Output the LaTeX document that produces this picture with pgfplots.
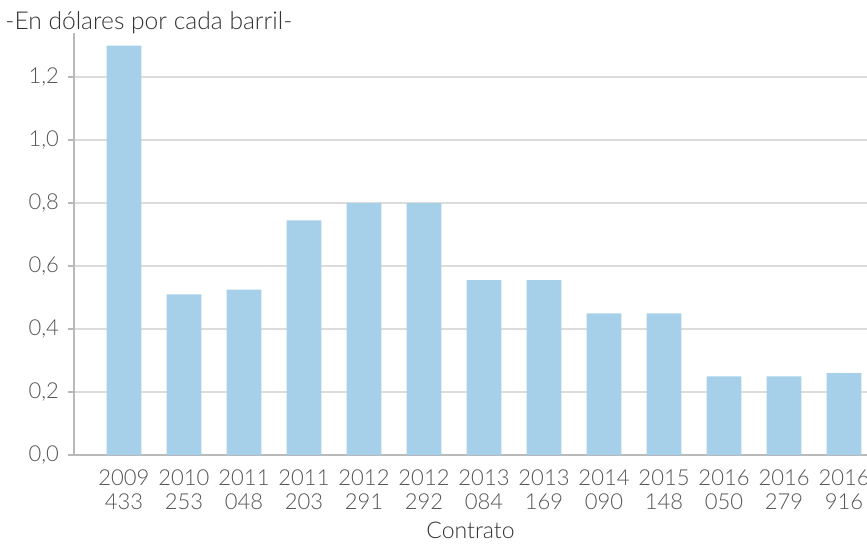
\documentclass[border=0pt]{standalone}
\usepackage{pgfplots}
\pgfplotsset{compat=1.18}
\usepackage{fontspec}
\setmainfont{Lato}[UprightFont=* Light]
\definecolor{barblue}{RGB}{166,208,234}
\definecolor{gridgrey}{RGB}{220,220,220}
\definecolor{axisgrey}{RGB}{185,185,185}
\definecolor{txtgrey}{RGB}{85,85,85}
\begin{document}
\begin{tikzpicture}
\begin{axis}[
    scale only axis, clip=false,
    width=396.5pt, height=211pt,
    xmin=-0.833, xmax=12.383,
    ymin=0, ymax=1.34,
    axis x line*=bottom, axis y line*=left,
    axis line style={axisgrey, line width=0.8pt},
    ytick={0,0.2,...,1.2},
    ymajorgrids=true,
    grid style={gridgrey, line width=0.6pt},
    ytick style={axisgrey, line width=0.6pt},
    tick align=outside, major tick length=3pt,
    xtick=data, xtick style={draw=none},
    xticklabels={2009\\433,2010\\253,2011\\048,2011\\203,2012\\291,2012\\292,2013\\084,2013\\169,2014\\090,2015\\148,2016\\050,2016\\279,2016\\916},
    xticklabel style={align=center, text=txtgrey, font=\fontsize{11}{12}\selectfont, yshift=-1pt},
    yticklabel style={text=txtgrey, font=\fontsize{11}{12}\selectfont, xshift=-1pt},
    y tick label style={/pgf/number format/.cd, fixed, fixed zerofill, precision=1, use comma, assume math mode=true},
    xlabel={Contrato},
    xlabel style={font=\fontsize{11.5}{12}\selectfont, text=black!80, yshift=1pt},
    ]
\addplot[ybar, bar width=0.58, fill=barblue, draw=none] coordinates {
    (0,1.30) (1,0.51) (2,0.525) (3,0.745) (4,0.80) (5,0.80) (6,0.555)
    (7,0.555) (8,0.45) (9,0.45) (10,0.25) (11,0.25) (12,0.26)
};
\coordinate (bl) at (rel axis cs:0,0);
\coordinate (tr) at (rel axis cs:1,1);
\node[anchor=base west, inner sep=0pt, font=\fontsize{12.3}{14}\selectfont, text=black!80, xshift=-34.5pt, yshift=1.5pt] at (rel axis cs:0,1) {-En dólares por cada barril-};
\end{axis}
\pgfresetboundingbox
\path ([xshift=-37pt,yshift=-44.5pt]bl) rectangle ([yshift=16.5pt]tr);
\end{tikzpicture}
\end{document}
